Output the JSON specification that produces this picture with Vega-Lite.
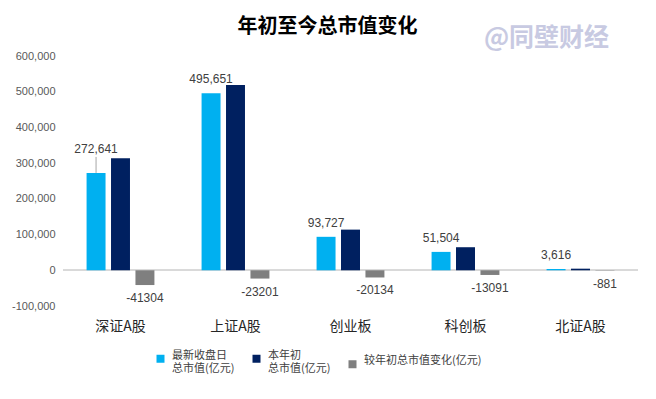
{
  "$schema": "https://vega.github.io/schema/vega-lite/v6.json",
  "width": 575,
  "height": 250,
  "autosize": "none",
  "padding": {"left": 63, "top": 56, "right": 18, "bottom": 93},
  "background": "white",
  "config": {"view": {"stroke": null}, "font": "Noto Sans CJK SC"},
  "title": {
    "text": "年初至今总市值变化",
    "fontSize": 20,
    "fontWeight": "bold",
    "font": "Noto Sans CJK SC",
    "color": "#000000",
    "anchor": "middle",
    "frame": "group",
    "dx": -23,
    "offset": -11
  },
  "data": {
    "values": [
      {"category": "深证A股", "series": "最新收盘日总市值(亿元)", "value": 272641},
      {"category": "上证A股", "series": "最新收盘日总市值(亿元)", "value": 495651},
      {"category": "创业板", "series": "最新收盘日总市值(亿元)", "value": 93727},
      {"category": "科创板", "series": "最新收盘日总市值(亿元)", "value": 51504},
      {"category": "北证A股", "series": "最新收盘日总市值(亿元)", "value": 3616},
      {"category": "深证A股", "series": "本年初总市值(亿元)", "value": 313945},
      {"category": "上证A股", "series": "本年初总市值(亿元)", "value": 518852},
      {"category": "创业板", "series": "本年初总市值(亿元)", "value": 113861},
      {"category": "科创板", "series": "本年初总市值(亿元)", "value": 64595},
      {"category": "北证A股", "series": "本年初总市值(亿元)", "value": 4497},
      {"category": "深证A股", "series": "较年初总市值变化(亿元)", "value": -41304},
      {"category": "上证A股", "series": "较年初总市值变化(亿元)", "value": -23201},
      {"category": "创业板", "series": "较年初总市值变化(亿元)", "value": -20134},
      {"category": "科创板", "series": "较年初总市值变化(亿元)", "value": -13091},
      {"category": "北证A股", "series": "较年初总市值变化(亿元)", "value": -881}
    ]
  },
  "encoding": {
    "x": {
      "field": "category",
      "type": "nominal",
      "sort": ["深证A股", "上证A股", "创业板", "科创板", "北证A股"],
      "scale": {"paddingInner": 0.41, "paddingOuter": 0.205},
      "axis": {
        "title": null,
        "labelAngle": 0,
        "domain": false,
        "ticks": false,
        "labelPadding": 13,
        "labelFontSize": 14,
        "labelColor": "#262626",
        "labelFont": "Noto Sans CJK SC"
      }
    },
    "y": {
      "field": "value",
      "type": "quantitative",
      "scale": {"domain": [-100000, 600000], "nice": false},
      "axis": {
        "title": null,
        "values": [-100000, 0, 100000, 200000, 300000, 400000, 500000, 600000],
        "labelExpr": "replace(format(datum.value, ','), '\u2212', '-')",
        "grid": false,
        "domain": false,
        "ticks": false,
        "labelPadding": 8,
        "labelFontSize": 11,
        "labelColor": "#595959",
        "labelFont": "Liberation Sans"
      }
    }
  },
  "layer": [
    {
      "mark": {"type": "rule", "color": "#d9d9d9", "strokeWidth": 1},
      "encoding": {"y": {"datum": 0}, "x": null}
    },
    {
      "mark": {"type": "bar"},
      "encoding": {
        "xOffset": {
          "field": "series",
          "type": "nominal",
          "sort": ["最新收盘日总市值(亿元)", "本年初总市值(亿元)", "较年初总市值变化(亿元)"],
          "scale": {"domain": ["最新收盘日总市值(亿元)", "本年初总市值(亿元)", "较年初总市值变化(亿元)"], "paddingInner": 0.224}
        },
        "color": {
          "field": "series",
          "type": "nominal",
          "scale": {
            "domain": ["最新收盘日总市值(亿元)", "本年初总市值(亿元)", "较年初总市值变化(亿元)"],
            "range": ["#00B0F0", "#002060", "#7F7F7F"]
          },
          "legend": {
            "title": null,
            "orient": "none",
            "legendX": 92,
            "legendY": 297,
            "direction": "horizontal",
            "columns": 3,
            "symbolType": "square",
            "symbolSize": 64,
            "symbolStrokeWidth": 0,
            "labelFontSize": 11,
            "labelColor": "#404040",
            "labelFont": "Noto Sans CJK SC",
            "labelLimit": 200,
            "labelBaseline": "alphabetic",
            "labelOffset": 6,
            "columnPadding": 16,
            "labelExpr": "datum.label == '最新收盘日总市值(亿元)' ? ['最新收盘日', '总市值(亿元)'] : (datum.label == '本年初总市值(亿元)' ? ['本年初', '总市值(亿元)'] : datum.label)"
          }
        }
      }
    },
    {
      "transform": [{"filter": "datum.series == '最新收盘日总市值(亿元)' && datum.category != '深证A股'"}],
      "mark": {"type": "text", "baseline": "bottom", "dy": -7, "fontSize": 12, "color": "#404040", "font": "Liberation Sans"},
      "encoding": {
        "xOffset": {
          "field": "series",
          "type": "nominal",
          "scale": {"domain": ["最新收盘日总市值(亿元)", "本年初总市值(亿元)", "较年初总市值变化(亿元)"], "paddingInner": 0.224}
        },
        "text": {"field": "value", "type": "quantitative", "format": ","}
      }
    },
    {
      "transform": [{"filter": "datum.series == '最新收盘日总市值(亿元)' && datum.category == '深证A股'"}],
      "mark": {"type": "text", "baseline": "bottom", "dy": -17, "fontSize": 12, "color": "#404040", "font": "Liberation Sans"},
      "encoding": {
        "xOffset": {
          "field": "series",
          "type": "nominal",
          "scale": {"domain": ["最新收盘日总市值(亿元)", "本年初总市值(亿元)", "较年初总市值变化(亿元)"], "paddingInner": 0.224}
        },
        "text": {"field": "value", "type": "quantitative", "format": ","}
      }
    },
    {
      "transform": [{"filter": "datum.series == '最新收盘日总市值(亿元)' && datum.category == '深证A股'"}],
      "mark": {"type": "rule", "color": "#a6a6a6", "y2Offset": -16},
      "encoding": {
        "xOffset": {
          "field": "series",
          "type": "nominal",
          "scale": {"domain": ["最新收盘日总市值(亿元)", "本年初总市值(亿元)", "较年初总市值变化(亿元)"], "paddingInner": 0.224}
        },
        "y2": {"field": "value"}
      }
    },
    {
      "transform": [{"filter": "datum.series == '较年初总市值变化(亿元)'"}],
      "mark": {"type": "text", "baseline": "top", "dy": 8, "fontSize": 12, "color": "#404040", "font": "Liberation Sans"},
      "encoding": {
        "xOffset": {
          "field": "series",
          "type": "nominal",
          "scale": {"domain": ["最新收盘日总市值(亿元)", "本年初总市值(亿元)", "较年初总市值变化(亿元)"], "paddingInner": 0.224}
        },
        "text": {"field": "value", "type": "nominal"}
      }
    },
    {
      "transform": [{"filter": "datum.series == '本年初总市值(亿元)' && datum.category == '北证A股'"}],
      "mark": {"type": "text", "text": "@同壁财经", "fontSize": 25, "fontWeight": "bold", "color": "#c8cae2", "font": "Noto Sans CJK SC", "dx": -34, "baseline": "middle", "clip": false},
      "encoding": {
        "y": {"datum": 650000}
      }
    }
  ]
}
